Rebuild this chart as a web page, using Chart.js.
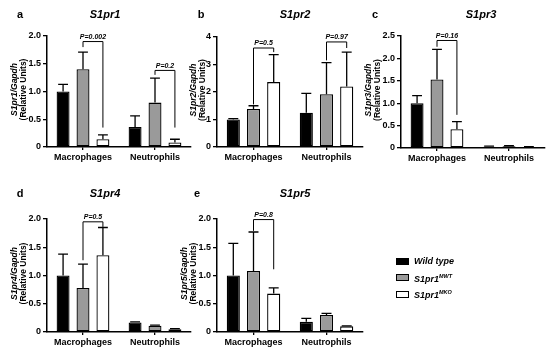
<!DOCTYPE html>
<html>
<head>
<meta charset="utf-8">
<script src="https://cdn.jsdelivr.net/npm/chart.js@4.4.0/dist/chart.umd.min.js"></script>
<style>
  body { margin: 0; background: #fff; font-family: "Liberation Sans", Arial, sans-serif; }
  #wrap { position: relative; width: 550px; height: 351px; overflow: hidden; }
  canvas { position: absolute; left: 0; top: 0; }
  .lbl { position: absolute; font-weight: bold; color: #000; white-space: nowrap; transform: translate(-50%, -50%); }
  .ttl { font-style: italic; font-size: 11px; }
  .let { font-size: 11px; }
  .sw { position: absolute; width: 13px; height: 7px; box-sizing: border-box; border: 1.3px solid #000; }
  .lt { position: absolute; font-weight: bold; font-style: italic; font-size: 9px; white-space: nowrap; transform: translateY(-50%); }
  .lt sup { font-size: 5.5px; vertical-align: 4px; }
</style>
</head>
<body>
<div id="wrap"></div>
<script>
const groups = ['Macrophages', 'Neutrophils'];
const seriesNames = ['Wild type', 'S1pr1MWT', 'S1pr1MKO'];
const seriesColors = ['#000000', '#9a9a9a', '#ffffff'];

const panelTitles = ['S1pr1', 'S1pr2', 'S1pr3', 'S1pr4', 'S1pr5'];
const panelLetters = ['a', 'b', 'c', 'd', 'e'];
const yMax = [2, 4, 2.5, 2, 2];
const yStep = [0.5, 1, 0.5, 0.5, 0.5];

// [Wild type, MWT, MKO], each [Macrophages, Neutrophils]
const s1pr1Mean = [[1.0, 0.36], [1.4, 0.8], [0.14, 0.08]];
const s1pr1Err  = [[0.13, 0.2], [0.31, 0.44], [0.08, 0.06]];
const s1pr2Mean = [[1.0, 1.25], [1.38, 1.92], [2.36, 2.2]];
const s1pr2Err  = [[0.03, 0.7], [0.12, 1.15], [1.0, 1.25]];
const s1pr3Mean = [[1.0, 0.03], [1.53, 0.04], [0.42, 0.02]];
const s1pr3Err  = [[0.17, 0.01], [0.67, 0.01], [0.17, 0.01]];
const s1pr4Mean = [[1.0, 0.17], [0.78, 0.11], [1.36, 0.05]];
const s1pr4Err  = [[0.38, 0.01], [0.42, 0.01], [0.49, 0.01]];
const s1pr5Mean = [[1.0, 0.18], [1.08, 0.3], [0.68, 0.1]];
const s1pr5Err  = [[0.57, 0.06], [0.69, 0.03], [0.1, 0.01]];

// [group, bracket top, left leg end, right leg end, label]
const s1pr1P = [[0, 1.9, 1.8, 0.35, 'P=0.002'], [1, 1.38, 1.3, 0.35, 'P=0.2']];
const s1pr2P = [[0, 3.6, 1.55, 3.45, 'P=0.5'], [1, 3.82, 3.15, 3.6, 'P=0.97']];
const s1pr3P = [[0, 2.4, 2.26, 0.74, 'P=0.16']];
const s1pr4P = [[0, 1.95, 1.27, 1.86, 'P=0.5']];
const s1pr5P = [[0, 1.99, 1.79, 1.11, 'P=0.8']];

const means = [s1pr1Mean, s1pr2Mean, s1pr3Mean, s1pr4Mean, s1pr5Mean];
const errs = [s1pr1Err, s1pr2Err, s1pr3Err, s1pr4Err, s1pr5Err];
const brackets = [s1pr1P, s1pr2P, s1pr3P, s1pr4P, s1pr5P];

// plot areas on the page and y-title offsets
const boxes = [
  { l: 47, r: 191, t: 36, b: 147, yt: [32, 23], tx: 105, ty: 14, lx: 20 },
  { l: 217, r: 363, t: 37, b: 147, yt: [23, 14], tx: 295, ty: 14, lx: 201 },
  { l: 401, r: 545, t: 36, b: 148, yt: [32, 23], tx: 481, ty: 14, lx: 375 },
  { l: 47, r: 191, t: 219, b: 332, yt: [32, 23], tx: 105, ty: 193, lx: 20 },
  { l: 217, r: 363, t: 219, b: 332, yt: [32, 23], tx: 295, ty: 193, lx: 197 }
];

const FONT = '"Liberation Sans", Arial, sans-serif';
Chart.defaults.font.family = FONT;
const wrap = document.getElementById('wrap');

function makePanel(i) {
  const box = boxes[i];
  const cv = document.createElement('canvas');
  cv.width = 550; cv.height = 351;
  wrap.appendChild(cv);
  const YW = 30, XH = 30;

  const extras = {
    id: 'extras' + i,
    afterDatasetsDraw(chart) {
      const ctx = chart.ctx, y = chart.scales.y;
      ctx.save();
      ctx.strokeStyle = '#000';
      ctx.fillStyle = '#000';
      ctx.lineWidth = 1.3;
      // error bars (upper only)
      chart.data.datasets.forEach((ds, k) => {
        chart.getDatasetMeta(k).data.forEach((bar, j) => {
          const top = y.getPixelForValue(means[i][k][j] + errs[i][k][j]);
          const half = bar.width * 0.38;
          ctx.beginPath();
          ctx.moveTo(bar.x, bar.y);
          ctx.lineTo(bar.x, top);
          ctx.moveTo(bar.x - half, top);
          ctx.lineTo(bar.x + half, top);
          ctx.stroke();
        });
      });
      // significance brackets
      ctx.lineWidth = 1;
      brackets[i].forEach(([g, tv, lv, rv, txt]) => {
        const x1 = chart.getDatasetMeta(1).data[g].x;
        const x2 = chart.getDatasetMeta(2).data[g].x;
        const yt = y.getPixelForValue(tv);
        ctx.beginPath();
        ctx.moveTo(x1, y.getPixelForValue(lv));
        ctx.lineTo(x1, yt);
        ctx.lineTo(x2, yt);
        ctx.lineTo(x2, y.getPixelForValue(rv));
        ctx.stroke();
        ctx.font = 'italic bold 7px ' + FONT;
        ctx.textAlign = 'center';
        ctx.textBaseline = 'bottom';
        ctx.fillText(txt, (x1 + x2) / 2, yt - 1);
      });
      // y axis title, two lines
      const cy = (chart.chartArea.top + chart.chartArea.bottom) / 2 - 2;
      ctx.textAlign = 'center';
      ctx.textBaseline = 'middle';
      ctx.save();
      ctx.translate(box.l - box.yt[0], cy);
      ctx.rotate(-Math.PI / 2);
      ctx.font = 'italic bold 8.5px ' + FONT;
      ctx.fillText(panelTitles[i] + '/Gapdh', 0, 0);
      ctx.restore();
      ctx.save();
      ctx.translate(box.l - box.yt[1], cy);
      ctx.rotate(-Math.PI / 2);
      ctx.font = 'bold 8.5px ' + FONT;
      ctx.fillText('(Relative Units)', 0, 0);
      ctx.restore();
      ctx.restore();
    }
  };

  new Chart(cv, {
    type: 'bar',
    data: {
      labels: groups,
      datasets: seriesNames.map((n, k) => ({
        label: n,
        data: means[i][k],
        backgroundColor: seriesColors[k],
        borderColor: '#000',
        borderWidth: 1.3,
        borderSkipped: false,
        categoryPercentage: 0.83,
        barPercentage: 0.65
      }))
    },
    options: {
      responsive: false,
      animation: false,
      events: [],
      layout: { padding: { left: box.l - YW, right: 550 - box.r, top: box.t, bottom: 351 - box.b - XH } },
      plugins: { legend: { display: false }, tooltip: { enabled: false } },
      scales: {
        x: {
          afterFit: s => { s.height = XH; },
          grid: { display: true, drawOnChartArea: false, offset: false, tickLength: 3, color: '#000', lineWidth: 1.3 },
          border: { color: '#000', width: 1.5 },
          ticks: { color: '#000', font: { size: 9, weight: 'bold' }, padding: 2, maxRotation: 0, autoSkip: false }
        },
        y: {
          min: 0,
          max: yMax[i],
          afterFit: s => { s.width = YW; },
          grid: { display: true, drawOnChartArea: false, tickLength: 4, color: '#000', lineWidth: 1.3 },
          border: { color: '#000', width: 1.5 },
          ticks: {
            stepSize: yStep[i],
            color: '#000',
            padding: 2,
            font: { size: 9, weight: 'bold' },
            callback: v => v === 0 ? '0' : (yStep[i] < 1 ? v.toFixed(1) : String(v))
          }
        }
      }
    },
    plugins: [extras]
  });

  const t = document.createElement('div');
  t.className = 'lbl ttl';
  t.style.left = box.tx + 'px'; t.style.top = box.ty + 'px';
  t.textContent = panelTitles[i];
  wrap.appendChild(t);
  const l = document.createElement('div');
  l.className = 'lbl let';
  l.style.left = box.lx + 'px'; l.style.top = box.ty + 'px';
  l.textContent = panelLetters[i];
  wrap.appendChild(l);
}

for (let i = 0; i < 5; i++) makePanel(i);

// legend
const legendRows = [261, 277.5, 294];
const legendHtml = ['Wild type', 'S1pr1<sup>MWT</sup>', 'S1pr1<sup>MKO</sup>'];
legendRows.forEach((yy, k) => {
  const sw = document.createElement('div');
  sw.className = 'sw';
  sw.style.left = '396px'; sw.style.top = (yy - 3.5) + 'px';
  sw.style.background = seriesColors[k];
  wrap.appendChild(sw);
  const tx = document.createElement('div');
  tx.className = 'lt';
  tx.style.left = '414px'; tx.style.top = yy + 'px';
  tx.innerHTML = legendHtml[k];
  wrap.appendChild(tx);
});
</script>
</body>
</html>
